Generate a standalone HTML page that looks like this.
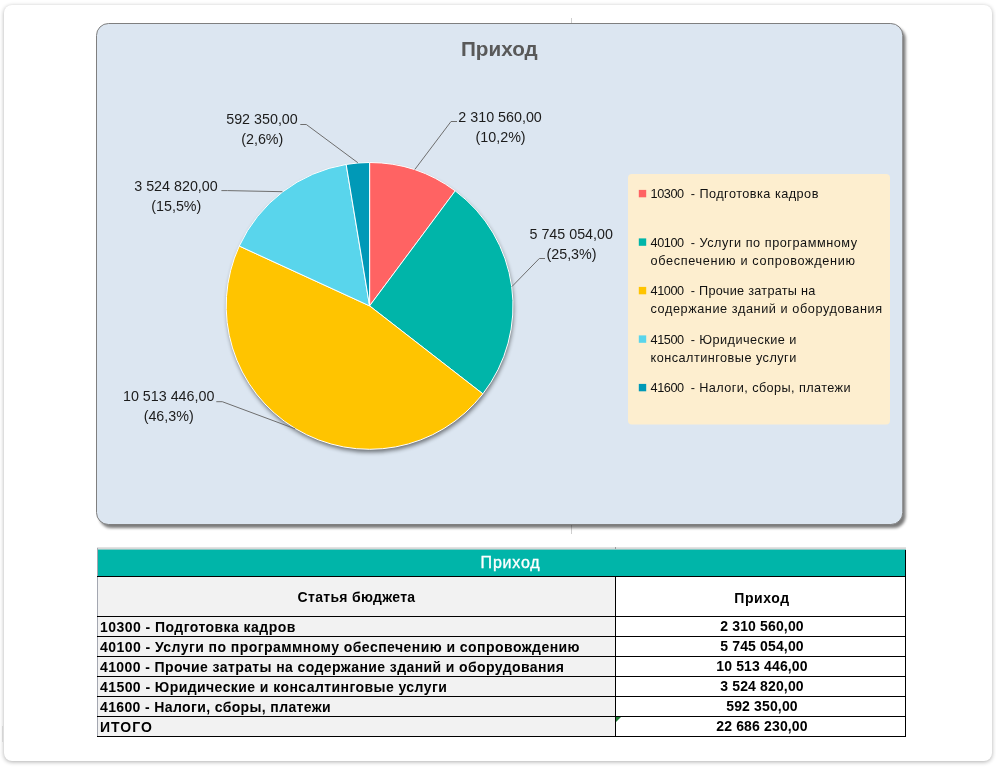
<!DOCTYPE html>
<html lang="ru">
<head>
<meta charset="utf-8">
<title>Приход</title>
<style>
html,body{margin:0;padding:0;background:#fff;}
body{width:996px;height:768px;position:relative;overflow:hidden;font-family:"Liberation Sans",sans-serif;}
#card{position:absolute;left:4px;top:5px;width:988px;height:756px;background:#fff;border-radius:8px;box-shadow:0 1px 4px rgba(0,0,0,0.32);}
#chart{position:absolute;left:0;top:0;width:996px;height:540px;}
#chart text{font-family:"Liberation Sans",sans-serif;}
.dl{font-size:14.3px;fill:#1c1c1c;}
.lg{font-size:12.7px;fill:#111;}
#tbl{position:absolute;left:97px;top:548px;width:809px;height:189px;}
#tbl div{position:absolute;box-sizing:border-box;font-weight:bold;font-size:14px;color:#000;white-space:nowrap;letter-spacing:0.45px;}
.l{left:0;width:518px;background:#f2f2f2;padding-left:3px;line-height:20px;height:20px;}
.r{left:519px;width:289px;background:#fff;text-align:center;line-height:20px;height:20px;letter-spacing:0.15px;padding-left:3px;}
#tbl div.r{letter-spacing:0.15px;line-height:19px;}
#tbl div.rh{letter-spacing:0.6px;line-height:42px;}
.hl{position:absolute;left:0;width:809px;height:1px;background:#000;}
</style>
</head>
<body>
<div id="card"></div>
<span style="position:absolute;left:2px;top:726px;width:1px;height:16px;background:rgba(0,0,0,0.09)"></span>
<svg id="chart" width="996" height="540" viewBox="0 0 996 540">
<defs>
<filter id="sh" x="-5%" y="-5%" width="112%" height="112%"><feGaussianBlur stdDeviation="1.8"/></filter>
<filter id="sh2" x="-10%" y="-10%" width="120%" height="120%"><feGaussianBlur stdDeviation="2.3"/></filter>
</defs>
<rect x="571" y="18" width="1" height="516" fill="#cfcfcf"/>
<rect x="99.3" y="27" width="806.3" height="501" rx="12" fill="#000" opacity="0.52" filter="url(#sh)"/>
<rect x="96.5" y="23.5" width="806.3" height="501" rx="12" fill="#dce6f1" stroke="#7f7f7f" stroke-width="1"/>
<text x="499.3" y="55.6" text-anchor="middle" font-size="20.7" font-weight="bold" fill="#595959">Приход</text>
<circle cx="370.4" cy="308.9" r="143.3" fill="#000" opacity="0.5" filter="url(#sh2)"/>
<g stroke="#fff" stroke-width="1" stroke-linejoin="round">
<path d="M369.6 305.9L369.60 162.50A143.4 143.4 0 0 1 455.23 190.87Z" fill="#FF6363"/>
<path d="M369.6 305.9L455.23 190.87A143.4 143.4 0 0 1 482.86 393.85Z" fill="#00B5A9"/>
<path d="M369.6 305.9L482.86 393.85A143.4 143.4 0 0 1 239.28 246.06Z" fill="#FFC400"/>
<path d="M369.6 305.9L239.28 246.06A143.4 143.4 0 0 1 346.18 164.43Z" fill="#59D5EC"/>
<path d="M369.6 305.9L346.18 164.43A143.4 143.4 0 0 1 369.60 162.50Z" fill="#0099B7"/>
</g>
<g fill="none" stroke="#6e6e6e" stroke-width="1">
<polyline points="457,121.5 451,121.5 414.8,169.5"/>
<polyline points="545,258.5 539.3,258.5 512.0,286.5"/>
<polyline points="216.3,401.7 222.3,401.7 295.1,428.8"/>
<polyline points="221.4,190.6 227.4,190.6 282.4,191.7"/>
<polyline points="300.3,124.5 306.3,124.5 357.8,162.7"/>
</g>
<g class="dl" text-anchor="middle">
<text x="500.100" y="122">2 310 560,00</text><text x="500.600" y="142">(10,2%)</text>
<text x="571.200" y="239">5 745 054,00</text><text x="571.500" y="259.300">(25,3%)</text>
<text x="168.700" y="400.600">10 513 446,00</text><text x="168.700" y="421">(46,3%)</text>
<text x="176" y="190.800">3 524 820,00</text><text x="176.300" y="210.500">(15,5%)</text>
<text x="262" y="123.700">592 350,00</text><text x="262.300" y="143.800">(2,6%)</text>
</g>
<rect x="628" y="174" width="262" height="250.500" rx="4" fill="#fdeecf"/>
<g>
<rect x="638.8" y="189.9" width="7.4" height="7.4" fill="#FF6363"/>
<rect x="638.8" y="238.4" width="7.4" height="7.4" fill="#00B5A9"/>
<rect x="638.8" y="286.9" width="7.4" height="7.4" fill="#FFC400"/>
<rect x="638.8" y="335.4" width="7.4" height="7.4" fill="#59D5EC"/>
<rect x="638.8" y="383.9" width="7.4" height="7.4" fill="#0099B7"/>
</g>
<g class="lg">
<text x="650.5" y="198" textLength="33.6" lengthAdjust="spacing">10300</text><text x="690.7" y="198" textLength="127.7" lengthAdjust="spacing">- Подготовка кадров</text>
<text x="650.5" y="246.7" textLength="33.6" lengthAdjust="spacing">40100</text><text x="690.7" y="246.7" textLength="166.3" lengthAdjust="spacing">- Услуги по программному</text>
<text x="650.5" y="264.5" textLength="204.5" lengthAdjust="spacing">обеспечению и сопровождению</text>
<text x="650.5" y="295.1" textLength="33.6" lengthAdjust="spacing">41000</text><text x="690.7" y="295.1" textLength="124.7" lengthAdjust="spacing">- Прочие затраты на</text>
<text x="650.5" y="312.9" textLength="231.5" lengthAdjust="spacing">содержание зданий и оборудования</text>
<text x="650.5" y="343.8" textLength="33.6" lengthAdjust="spacing">41500</text><text x="690.7" y="343.8" textLength="105.6" lengthAdjust="spacing">- Юридические и</text>
<text x="650.5" y="361.6" textLength="145.8" lengthAdjust="spacing">консалтинговые услуги</text>
<text x="650.5" y="391.9" textLength="33.6" lengthAdjust="spacing">41600</text><text x="690.7" y="391.9" textLength="159.9" lengthAdjust="spacing">- Налоги, сборы, платежи</text>
</g>
</svg>
<div id="tbl">
<div style="left:0;top:0;width:809px;height:28px;background:#00b5a9;border-top:1px solid #d8d8d8;box-shadow:0 -1px 0 #e2e2e2, inset 0 1px 0 rgba(216,216,216,0.6);color:#fff;font-weight:normal;font-size:16px;letter-spacing:0.8px;text-align:center;line-height:27px;padding-left:18px;-webkit-text-stroke:0.35px #fff;">Приход</div>
<div class="l" style="top:29px;height:39px;line-height:40px;text-align:center;padding-left:1px;letter-spacing:0.3px;">Статья бюджета</div>
<div class="r rh" style="top:29px;height:39px;">Приход</div>
<div class="l" style="top:69px;">10300 - Подготовка кадров</div><div class="r" style="top:69px;">2 310 560,00</div>
<div class="l" style="top:89px;">40100 - Услуги по программному обеспечению и сопровождению</div><div class="r" style="top:89px;">5 745 054,00</div>
<div class="l" style="top:109px;letter-spacing:0.4px;">41000 - Прочие затраты на содержание зданий и оборудования</div><div class="r" style="top:109px;">10 513 446,00</div>
<div class="l" style="top:129px;letter-spacing:0.43px;">41500 - Юридические и консалтинговые услуги</div><div class="r" style="top:129px;">3 524 820,00</div>
<div class="l" style="top:149px;letter-spacing:0.37px;">41600 - Налоги, сборы, платежи</div><div class="r" style="top:149px;">592 350,00</div>
<div class="l" style="top:169px;letter-spacing:1px;">ИТОГО</div><div class="r" style="top:169px;">22 686 230,00</div>
<span style="position:absolute;left:0;top:0;width:1px;height:189px;background:#a4a7b1"></span>
<span class="hl" style="top:28px"></span><span class="hl" style="top:68px"></span><span class="hl" style="top:88px"></span><span class="hl" style="top:108px"></span><span class="hl" style="top:128px"></span><span class="hl" style="top:148px"></span><span class="hl" style="top:168px"></span><span class="hl" style="top:188px"></span>
<span style="position:absolute;left:518px;top:29px;width:1px;height:160px;background:#000"></span>
<span style="position:absolute;left:808px;top:2px;width:1px;height:187px;background:#000"></span>
<span style="position:absolute;left:518px;top:-1px;width:1px;height:2px;background:#9a9a9a"></span>
<svg style="position:absolute;left:519px;top:169px" width="6" height="6" viewBox="0 0 6 6"><path d="M0 0H5L0 5Z" fill="#1e7d34"/></svg>
</div>
</body>
</html>
